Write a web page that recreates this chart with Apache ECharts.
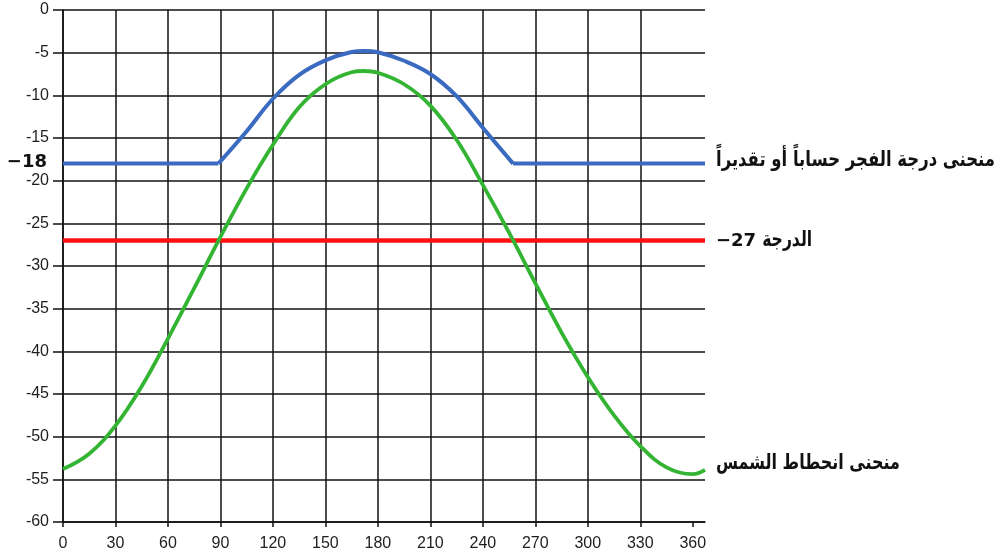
<!DOCTYPE html>
<html>
<head>
<meta charset="utf-8">
<script src="https://cdn.jsdelivr.net/npm/echarts@6/dist/echarts.min.js"></script>
<style>
  html, body { margin: 0; padding: 0; background: #ffffff; }
  #chart { width: 1002px; height: 558px; }
</style>
</head>
<body>
<div id="chart"></div>
<script>
// Day of year on x, sun altitude (degrees) on y
const xTicks = [0, 30, 60, 90, 120, 150, 180, 210, 240, 270, 300, 330, 360];
const dayMax = 367;

// Sun depression curve (green)
const sunCurve = [
  [0, -53.8], [15, -52.0], [30, -48.7], [45, -44.1], [60, -38.5], [75, -32.6],
  [90, -26.6], [105, -20.9], [120, -15.8], [135, -11.4], [150, -8.7], [165, -7.3],
  [172, -7.15], [180, -7.35], [195, -8.7], [210, -11.2], [225, -15.2], [240, -20.5],
  [255, -26.1], [270, -32.0], [285, -37.8], [300, -43.0], [315, -47.5], [330, -51.1],
  [345, -53.6], [360, -54.4], [367, -53.9]
];

// Fajr degree curve (blue): fixed level outside the summer arc
const fajrLevel = -18;
const fajrArc = [
  [88.8, -18], [105, -14.2], [120, -10.4], [135, -7.6], [150, -5.9], [165, -4.92],
  [172, -4.8], [180, -4.95], [195, -5.95], [210, -7.5], [225, -10.1], [240, -13.8],
  [257.3, -18]
];

// Reference degree (red)
const refDegree = -27;

const fajrText = 'منحنى درجة الفجر حساباً أو تقديراً';
const sunText = 'منحنى انحطاط الشمس';
const degreeWord = 'الدرجة';

const BLUE = '#3a6bc0';
const GREEN = '#33b433';
const RED = '#ff1010';

const arcStart = fajrArc[0][0];
const arcEnd = fajrArc[fajrArc.length - 1][0];
const fajrFlat = [
  [0, fajrLevel], [arcStart, fajrLevel], [(arcStart + arcEnd) / 2, '-'],
  [arcEnd, fajrLevel], [dayMax, fajrLevel]
];
const refLine = [[0, refDegree], [dayMax, refDegree]];

const chart = echarts.init(document.getElementById('chart'), null, { renderer: 'canvas' });

const gridLine = { show: true, lineStyle: { color: '#111', width: 1.5 } };
const axisFont = { fontFamily: '"Liberation Sans", Arial, sans-serif', fontSize: 16, color: '#1e1e1e' };

chart.setOption({
  animation: false,
  backgroundColor: '#ffffff',
  grid: { left: 63, top: 10, right: 297, bottom: 36, containLabel: false },
  xAxis: {
    type: 'value', min: 0, max: dayMax, interval: 30,
    axisLine: { show: true, onZero: false, lineStyle: { color: '#111', width: 1.5 } },
    axisTick: { show: true, length: 5, lineStyle: { color: '#111', width: 1.5 }, customValues: xTicks },
    axisLabel: Object.assign({ margin: 14, customValues: xTicks }, axisFont),
    splitLine: Object.assign({ showMaxLine: false }, gridLine)
  },
  yAxis: {
    type: 'value', min: -60, max: 0, interval: 5,
    axisLine: { show: true, onZero: false, lineStyle: { color: '#111', width: 1.5 } },
    axisTick: { show: true, length: 10, lineStyle: { color: '#111', width: 1.5 } },
    axisLabel: Object.assign({ margin: 14 }, axisFont),
    splitLine: gridLine
  },
  series: [
    {
      name: 'ref', type: 'line', data: refLine, symbol: 'none',
      lineStyle: { color: RED, width: 4.5 }, z: 3
    },
    {
      name: 'sun', type: 'line', data: sunCurve, symbol: 'none', smooth: 0.4,
      lineStyle: { color: GREEN, width: 3.8 }, z: 4
    },
    {
      name: 'fajrFlat', type: 'line', data: fajrFlat, symbol: 'none', connectNulls: false,
      lineStyle: { color: BLUE, width: 4 }, z: 5
    },
    {
      name: 'fajrArc', type: 'line', data: fajrArc, symbol: 'none', smooth: 0.4,
      lineStyle: { color: BLUE, width: 4 }, z: 5
    }
  ]
});

// Side annotations, placed from the data coordinates of each curve
const toPx = (x, y) => chart.convertToPixel({ gridIndex: 0 }, [x, y]);
const rightX = toPx(dayMax, 0)[0];
const leftX = toPx(0, 0)[0];
const yFajr = toPx(0, fajrLevel)[1];
const yRef = toPx(0, refDegree)[1];
const ySun = toPx(dayMax, sunCurve[sunCurve.length - 1][1])[1];

const arabicFont = 'bold 21px "DejaVu Sans", sans-serif';
const numFont = 'bold 18px "DejaVu Sans", sans-serif';

// Narrow the wide Arabic glyphs to the caption widths
const measureCtx = document.createElement('canvas').getContext('2d');
function textWidth(text, font) {
  measureCtx.font = font;
  return measureCtx.measureText(text).width;
}
const refNum = '\u2212' + Math.abs(refDegree);
const refNumWidth = textWidth(refNum, numFont);

chart.setOption({
  graphic: [
    {
      type: 'text', x: rightX + 11, y: yFajr - 3,
      scaleX: 279 / textWidth(fajrText, arabicFont),
      style: { text: fajrText, font: arabicFont, fill: '#111', textAlign: 'left', textVerticalAlign: 'middle' }
    },
    {
      type: 'text', x: rightX + 11, y: yRef + 1,
      style: { text: refNum, font: numFont, fill: '#111', textAlign: 'left', textVerticalAlign: 'middle' }
    },
    {
      type: 'text', x: rightX + 11 + refNumWidth + 6, y: yRef,
      scaleX: 50 / textWidth(degreeWord, arabicFont),
      style: { text: degreeWord, font: arabicFont, fill: '#111', textAlign: 'left', textVerticalAlign: 'middle' }
    },
    {
      type: 'text', x: rightX + 11, y: ySun - 6,
      scaleX: 184 / textWidth(sunText, arabicFont),
      style: { text: sunText, font: arabicFont, fill: '#111', textAlign: 'left', textVerticalAlign: 'middle' }
    },
    {
      type: 'text', x: leftX - 16, y: yFajr - 1,
      style: { text: '\u2212' + Math.abs(fajrLevel), font: numFont, fill: '#111', textAlign: 'right', textVerticalAlign: 'middle' }
    }
  ]
});
</script>
</body>
</html>
